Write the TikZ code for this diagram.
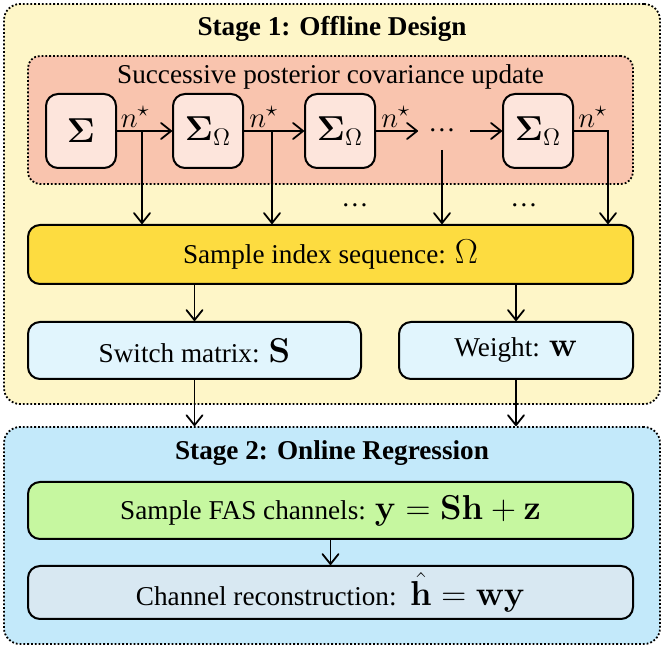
\documentclass[tikz,border=0pt]{standalone}
\usepackage{amsmath,bm}
\usepackage[no-math]{fontspec}
\setmainfont{Liberation Serif}
\usetikzlibrary{arrows.meta}
\definecolor{stA}{HTML}{FEF6C8}
\definecolor{pinkc}{HTML}{F9C4AE}
\definecolor{smallc}{HTML}{FDE5DC}
\definecolor{goldc}{HTML}{FDDC40}
\definecolor{lblue}{HTML}{E1F5FD}
\definecolor{stB}{HTML}{C3E9FA}
\definecolor{greenc}{HTML}{C6F7A0}
\definecolor{chanc}{HTML}{D8E8F2}
\newcommand\mth[1]{{\fontsize{17}{20}\selectfont$#1$}}
\newcommand\nst{{\fontsize{15}{18}\selectfont$n^\star$}}
\begin{document}
\begin{tikzpicture}[x=0.5pt,y=-0.5pt,font=\fontsize{13.6}{16}\selectfont,
  stagebox/.style={draw, densely dotted, line width=0.9pt, rounded corners=8pt, inner sep=0pt},
  blk/.style={draw, line width=1pt, rounded corners=6pt, inner sep=0pt},
  arr/.style={line width=0.9pt, -{Straight Barb[length=5pt,width=8pt,line width=0.9pt,round]}},
  lbl/.style={above, inner sep=1.5pt}]
\useasboundingbox (0,0) rectangle (664,651);
% Stage 1
\node[stagebox, fill=stA, minimum width=328pt, minimum height=200pt] (stage1) at (332,204) {};
\node[font=\fontsize{13.6}{16}\selectfont\bfseries] (t1) at (332,29) {Stage 1: Offline Design};
\node[stagebox, fill=pinkc, rounded corners=6pt, minimum width=302.5pt, minimum height=64pt] (pink) at (330.5,120) {};
\node (pt) at (330.5,77) {Successive posterior covariance update};
\node[blk, fill=smallc, minimum width=35pt, minimum height=37pt] (s1) at (81,131) {\mth{\bm{\Sigma}}};
\node[blk, fill=smallc, minimum width=35pt, minimum height=37pt] (s2) at (208,131) {\mth{\bm{\Sigma}_\Omega}};
\node[blk, fill=smallc, minimum width=35pt, minimum height=37pt] (s3) at (340,131) {\mth{\bm{\Sigma}_\Omega}};
\node[blk, fill=smallc, minimum width=35pt, minimum height=37pt] (s4) at (538,131) {\mth{\bm{\Sigma}_\Omega}};
\node[anchor=base] (dA) at (442,132) {\ldots};
\node[anchor=base] (dB) at (355,207) {\ldots};
\node[anchor=base] (dC) at (524,207) {\ldots};
\node[blk, fill=goldc, minimum width=302.5pt, minimum height=29.5pt] (omega) at (330.5,254.5) {Sample index sequence: \mth{\Omega}};
\node[blk, fill=lblue, minimum width=166.5pt, minimum height=28.5pt] (sw) at (194.5,350.5) {Switch matrix: \mth{\mathbf{S}}};
\node[blk, fill=lblue, minimum width=117pt, minimum height=28.5pt] (wt) at (516,350.5) {Weight: \mth{\mathbf{w}}};
% Stage 2
\node[stagebox, fill=stB, minimum width=328pt, minimum height=108.5pt] (stage2) at (332,535.5) {};
\node[font=\fontsize{13.6}{16}\selectfont\bfseries] (t2) at (332,453) {Stage 2: Online Regression};
\node[blk, fill=greenc, minimum width=302.5pt, minimum height=28.5pt] (green) at (330.5,510.5) {Sample FAS channels: \mth{\mathbf{y}=\mathbf{S}\mathbf{h}+\mathbf{z}}};
\node[blk, fill=chanc, minimum width=302.5pt, minimum height=26.5pt] (chan) at (330.5,592.5) {Channel reconstruction:\enspace\mth{\hat{\mathbf{h}}=\mathbf{w}\mathbf{y}}};
% connectors
\coordinate (b1) at (142,131);
\coordinate (b2) at (272,131);
\coordinate (e3) at (418,131);
\coordinate (e4) at (470,131);
\coordinate (b4) at (608,131);
\coordinate (b3) at (442,150);
\draw[arr] (s1) -- node[lbl, pos=0.33]{\nst} (s2);
\draw[arr] (s2) -- node[lbl, pos=0.33]{\nst} (s3);
\draw[arr] (s3) -- node[lbl, pos=0.47]{\nst} (e3);
\draw[arr] (e4) -- (s4);
\draw[arr] (s4) -- node[lbl, pos=0.55]{\nst} (b4) -- (b4 |- omega.north);
\draw[arr] (b1) -- (b1 |- omega.north);
\draw[arr] (b2) -- (b2 |- omega.north);
\draw[arr] (b3) -- (b3 |- omega.north);
\draw[arr] (omega.south -| sw) -- (sw);
\draw[arr] (omega.south -| wt) -- (wt);
\draw[arr] (sw) -- (sw |- stage2.north);
\draw[arr] (wt) -- (wt |- stage2.north);
\draw[arr] (green) -- (chan);
\end{tikzpicture}
\end{document}
